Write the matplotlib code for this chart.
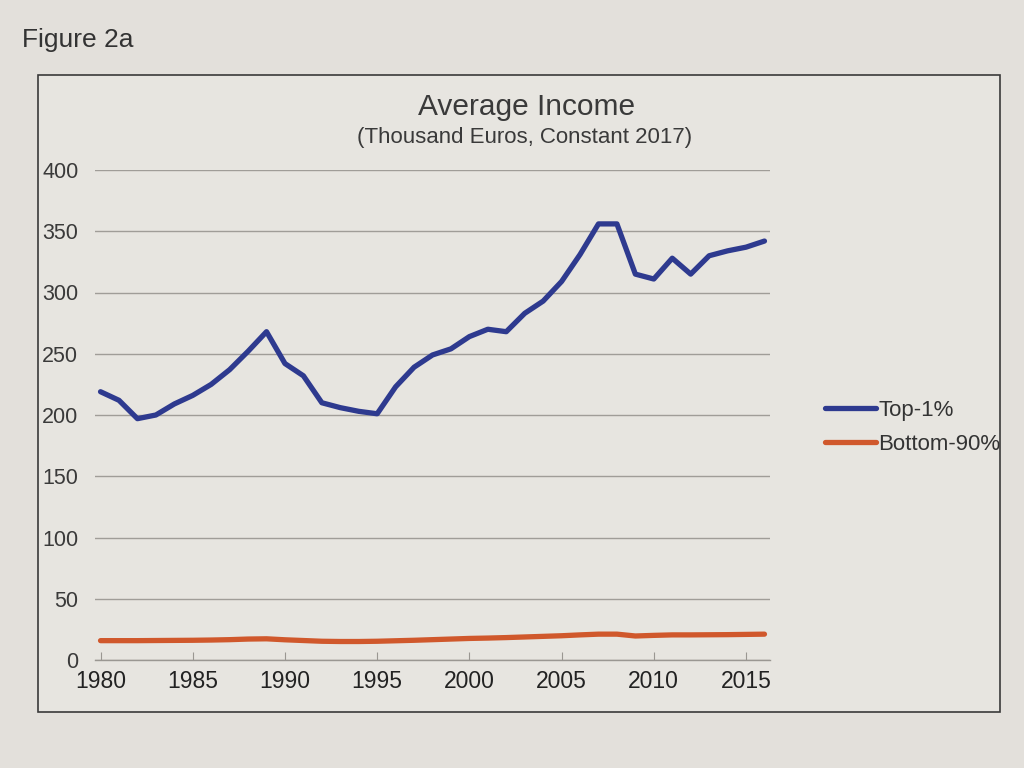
import matplotlib
matplotlib.use("Agg")
import matplotlib.pyplot as plt
from matplotlib.patches import Rectangle

plt.rcParams['font.family'] = ['Liberation Sans', 'DejaVu Sans']

years = list(range(1980, 2017))
top1 = [219, 212, 197, 200, 209, 216, 225, 237, 252, 268,
        242, 232, 210, 206, 203, 201, 223, 239, 249, 254,
        264, 270, 268, 283, 293, 309, 331, 356, 356, 315,
        311, 328, 315, 330, 334, 337, 342]
bottom90 = [15.8, 15.8, 15.8, 15.9, 16.0, 16.1, 16.3, 16.6, 17.1, 17.3,
            16.5, 15.9, 15.3, 15.1, 15.1, 15.3, 15.7, 16.1, 16.6, 17.1,
            17.6, 17.9, 18.3, 18.8, 19.3, 19.8, 20.5, 21.1, 21.1, 19.6,
            20.1, 20.5, 20.5, 20.6, 20.7, 20.9, 21.1]
series_names = ["Top-1%", "Bottom-90%"]
xticks = [1980, 1985, 1990, 1995, 2000, 2005, 2010, 2015]
yticks = [0, 50, 100, 150, 200, 250, 300, 350, 400]

fig = plt.figure(figsize=(10.24, 7.68), dpi=100)
fig.patch.set_facecolor('#e3e0db')

# chart box
box = Rectangle((38/1024, 1-712/768), (1000-38)/1024, (712-75)/768,
                transform=fig.transFigure, facecolor='#e7e5e0',
                edgecolor='#3a3a3a', linewidth=1.2, zorder=-5)
fig.add_artist(box)
fig.text(22/1024, 1-40/768, "Figure 2a", fontsize=19, color='#333333', va='center')
fig.text(527/1024, 1-107/768, "Average Income", fontsize=21.5, color='#3a3a3a',
         ha='center', va='center')
fig.text(525/1024, 1-137/768, "(Thousand Euros, Constant 2017)", fontsize=16,
         color='#3a3a3a', ha='center', va='center')

ax = fig.add_axes([95/1024, 1-660/768, (770-95)/1024, (660-170)/768])
ax.set_zorder(2)
ax.set_facecolor('none')
ax.plot(years, top1, color='#2e3a8f', lw=3.8, label=series_names[0], solid_capstyle='round')
ax.plot(years, bottom90, color='#d0582c', lw=3.8, label=series_names[1], solid_capstyle='round')

ax.set_xlim(1979.7, 2016.3)
ax.set_ylim(0, 400)
ax.set_yticks(yticks)
ax.set_xticks(xticks)
ax.grid(axis='y', color='#a09d98', lw=1.0)
ax.set_axisbelow(True)
for s in ['top', 'right', 'left']:
    ax.spines[s].set_visible(False)
ax.spines['bottom'].set_color('#9a9792')
ax.spines['bottom'].set_linewidth(1.0)
ax.tick_params(axis='y', length=0, labelsize=15.5, colors='#3a3a3a', pad=12)
ax.tick_params(axis='x', direction='in', length=6, color='#9a9792',
               labelsize=16.5, labelcolor='#222222', pad=7)

leg = ax.legend(loc='center left', bbox_to_anchor=(1.052, 0.475), frameon=False,
                fontsize=16, handlelength=2.3, handletextpad=0.1, labelspacing=0.6)
for t in leg.get_texts():
    t.set_color('#333333')

fig.savefig('out.png', dpi=100, facecolor=fig.get_facecolor())
